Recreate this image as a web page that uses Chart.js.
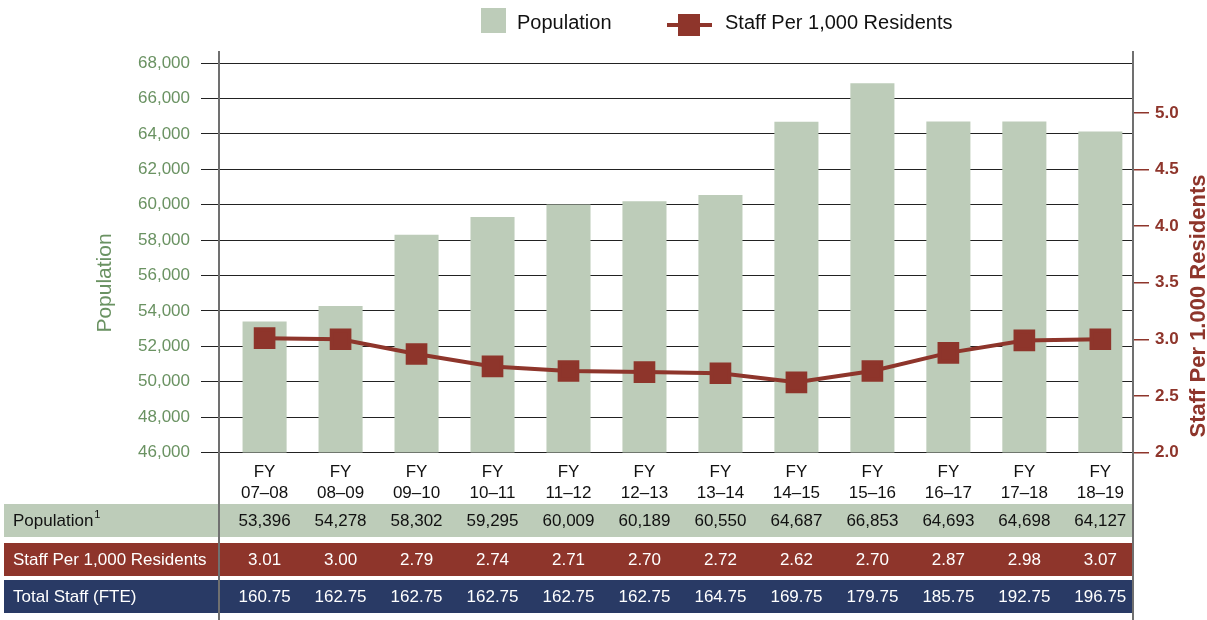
<!DOCTYPE html>
<html>
<head>
<meta charset="utf-8">
<script src="https://cdn.jsdelivr.net/npm/chart.js@4.4.1/dist/chart.umd.min.js"></script>
<style>
html,body{margin:0;padding:0;background:#fff}
#wrap{width:1207px;height:620px}
</style>
</head>
<body>
<div id="wrap"><canvas id="chart" width="1207" height="620"></canvas></div>
<script>
// fiscal years
const years = ["07–08","08–09","09–10","10–11","11–12","12–13","13–14","14–15","15–16","16–17","17–18","18–19"]
// population (bars + first table row)
const population = [53396,54278,58302,59295,60009,60189,60550,64687,66853,64693,64698,64127]
// staff per 1,000 as plotted on the line
const staffLine = [3.01,3.00,2.87,2.76,2.72,2.71,2.70,2.62,2.72,2.88,2.99,3.00]
// staff per 1,000 as printed in the table
const staffTable = [3.01,3.00,2.79,2.74,2.71,2.70,2.72,2.62,2.70,2.87,2.98,3.07]
// total staff FTE
const totalStaff = [160.75,162.75,162.75,162.75,162.75,162.75,164.75,169.75,179.75,185.75,192.75,196.75]

const GREEN = "#bdccb9"
const GREEN_TEXT = "#6a9262"
const RED = "#8e352b"
const NAVY = "#293a65"
const FONT = "'Liberation Sans', Arial, sans-serif"

const extras = {
  id: "extras",
  afterDraw(chart) {
    const ctx = chart.ctx
    const area = chart.chartArea
    const xs = chart.scales.x
    ctx.save()

    // legend
    ctx.fillStyle = GREEN
    ctx.fillRect(481, 8, 25, 25)
    ctx.fillStyle = "#111"
    ctx.font = "20px " + FONT
    ctx.textBaseline = "alphabetic"
    ctx.textAlign = "left"
    ctx.fillText("Population", 517, 29)
    ctx.strokeStyle = RED
    ctx.lineWidth = 4
    ctx.beginPath()
    ctx.moveTo(667, 25)
    ctx.lineTo(712, 25)
    ctx.stroke()
    ctx.fillStyle = RED
    ctx.fillRect(678, 14, 22, 22)
    ctx.fillStyle = "#111"
    ctx.fillText("Staff Per 1,000 Residents", 725, 29)

    // axis titles
    ctx.save()
    ctx.translate(105, 283)
    ctx.rotate(-Math.PI / 2)
    ctx.textAlign = "center"
    ctx.textBaseline = "middle"
    ctx.fillStyle = GREEN_TEXT
    ctx.font = "21px " + FONT
    ctx.fillText("Population", 0, 0)
    ctx.restore()

    ctx.save()
    ctx.translate(1199, 306)
    ctx.rotate(-Math.PI / 2)
    ctx.textAlign = "center"
    ctx.textBaseline = "middle"
    ctx.fillStyle = RED
    ctx.font = "bold 22px " + FONT
    ctx.fillText("Staff Per 1.000 Residents", 0, 0)
    ctx.restore()

    // table
    const rows = [
      { label: "Population", sup: "1", bg: GREEN, color: "#111", top: 504, values: population.map(v => v.toLocaleString("en-US")) },
      { label: "Staff Per 1,000 Residents", bg: RED, color: "#fff", top: 543, values: staffTable.map(v => v.toFixed(2)) },
      { label: "Total Staff (FTE)", bg: NAVY, color: "#fff", top: 580, values: totalStaff.map(v => v.toFixed(2)) }
    ]
    const rowH = 33
    rows.forEach(r => {
      ctx.fillStyle = r.bg
      ctx.fillRect(4, r.top, area.right - 4, rowH)
      ctx.fillStyle = r.color
      ctx.font = "17px " + FONT
      ctx.textBaseline = "middle"
      ctx.textAlign = "left"
      const cy = r.top + rowH / 2 + 1
      ctx.fillText(r.label, 13, cy)
      if (r.sup) {
        const w = ctx.measureText(r.label).width
        ctx.font = "11px " + FONT
        ctx.fillText(r.sup, 13 + w + 1, cy - 7)
        ctx.font = "17px " + FONT
      }
      ctx.textAlign = "center"
      r.values.forEach((v, i) => {
        ctx.fillText(v, xs.getPixelForValue(i), cy)
      })
    })

    // frame lines
    ctx.strokeStyle = "#707070"
    ctx.lineWidth = 2
    ctx.beginPath()
    ctx.moveTo(area.left, 51)
    ctx.lineTo(area.left, 620)
    ctx.moveTo(area.right, 51)
    ctx.lineTo(area.right, 620)
    ctx.stroke()

    ctx.restore()
  }
}

const ctx = document.getElementById("chart")

new Chart(ctx, {
  type: "bar",
  data: {
    datasets: [
      {
        type: "line",
        label: "Staff Per 1,000 Residents",
        data: staffLine.map((v, i) => ({ x: i, y: v })),
        yAxisID: "yRight",
        borderColor: RED,
        backgroundColor: RED,
        borderWidth: 4,
        pointStyle: "rect",
        pointRadius: 12.5,
        pointHoverRadius: 12.5,
        tension: 0,
        order: 0
      },
      {
        type: "bar",
        label: "Population",
        data: population.map((v, i) => ({ x: i, y: v })),
        yAxisID: "y",
        backgroundColor: GREEN,
        barPercentage: 0.58,
        categoryPercentage: 1,
        order: 1
      }
    ]
  },
  options: {
    responsive: false,
    animation: false,
    devicePixelRatio: 1,
    layout: { padding: { top: 63, left: 90, right: 0, bottom: 117.5 } },
    plugins: { legend: { display: false }, tooltip: { enabled: false } },
    scales: {
      x: {
        type: "linear",
        min: -0.6,
        max: 11.43,
        offset: false,
        grid: { display: false },
        border: { display: false },
        ticks: {
          stepSize: 1,
          includeBounds: false,
          autoSkip: false,
          maxRotation: 0,
          padding: 2,
          color: "#111",
          font: { family: FONT, size: 17 },
          callback: v => Number.isInteger(v) && years[v] ? ["FY", years[v]] : ""
        },
        afterFit: s => { s.height = 50; s.paddingLeft = 0; s.paddingRight = 0 }
      },
      y: {
        position: "left",
        min: 46000,
        max: 68000,
        grid: { color: "#222", lineWidth: 1, tickLength: 18 },
        border: { display: false },
        ticks: {
          stepSize: 2000,
          padding: 11,
          color: GREEN_TEXT,
          font: { family: FONT, size: 17 },
          callback: v => v.toLocaleString("en-US")
        },
        afterFit: s => { s.width = 129; s.paddingTop = 0; s.paddingBottom = 0 }
      },
      yRight: {
        position: "right",
        min: 2,
        max: 5.44,
        grid: { drawOnChartArea: false, color: RED, lineWidth: 1.5, tickLength: 16 },
        border: { display: false },
        ticks: {
          stepSize: 0.5,
          includeBounds: false,
          padding: 6,
          color: RED,
          font: { family: FONT, size: 17, weight: "bold" },
          callback: v => v.toFixed(1)
        },
        afterFit: s => { s.width = 74; s.paddingTop = 0; s.paddingBottom = 0 }
      }
    }
  },
  plugins: [extras]
})
</script>
</body>
</html>
